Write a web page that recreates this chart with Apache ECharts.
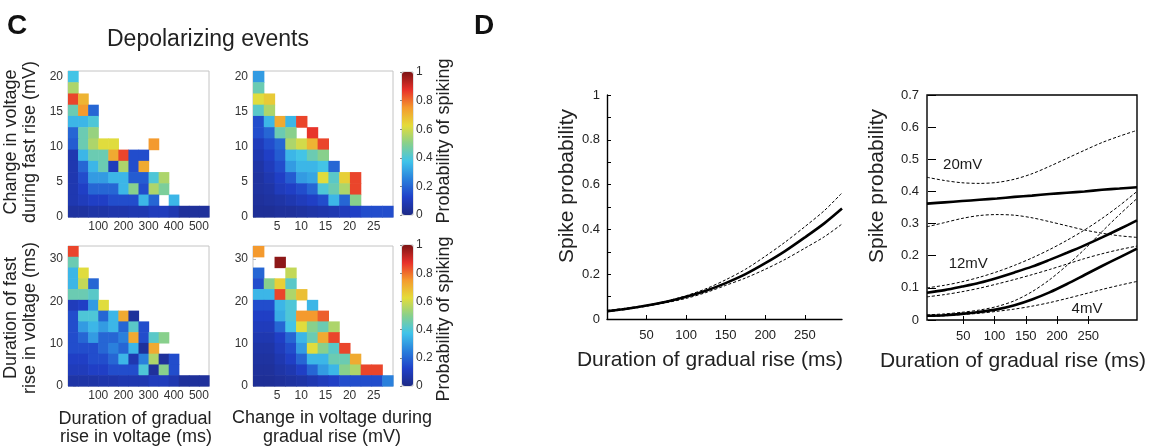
<!DOCTYPE html>
<html><head><meta charset="utf-8">
<script src="https://cdn.jsdelivr.net/npm/echarts@6/dist/echarts.min.js"></script>
<style>html,body{margin:0;padding:0;background:#fff}#c{width:1149px;height:446px}</style>
</head><body><div id="c"></div>
<script>
const N = null;
// ---- bin edges / ticks (panel C) ----
const gradDurEdges = [-20,20,60,100,140,180,220,260,300,340,380,420,460,500,540];
const gradVoltEdges = [0,2.23,4.46,6.69,8.92,11.15,13.38,15.61,17.84,20.07,22.3,24.53,26.76,28.99];
const fastVoltEdges = [0,1.6,3.2,4.8,6.4,8,9.6,11.2,12.8,14.4,16,17.6,19.2,20.8];
const fastDurEdges = [0,2.54,5.08,7.62,10.16,12.7,15.24,17.78,20.32,22.86,25.4,27.94,30.48,33.02];
const durTicks = [100,200,300,400,500];
const voltTicks = [5,10,15,20,25];

// ---- spike probability grids, rows listed top -> bottom ----
const pFastVoltByGradDur = [
  [0.38],
  [0.55],
  [0.85,0.70],
  [0.45,0.75,0.20],
  [0.35,0.35,0.40],
  [0.20,0.45,0.52],
  [0.18,0.45,0.55,0.62,0.62,N,N,N,0.75],
  [0.08,0.35,0.45,0.45,0.72,0.85,0.15,0.15],
  [0.08,0.20,0.35,0.45,0.10,0.55,0.15,0.72],
  [0.08,0.15,0.30,0.30,0.35,0.35,0.18,0.18,0.40,0.55],
  [0.08,0.12,0.20,0.20,0.20,0.35,0.50,0.15,0.55,0.48],
  [0.08,0.10,0.12,0.12,0.15,0.15,0.15,0.35,0.20,N,0.35],
  [0.05,0.05,0.06,0.06,0.07,0.07,0.08,0.08,0.10,0.10,0.08,0.04,0.04,0.04]
];
const pFastVoltByGradVolt = [
  [0.30],
  [0.45],
  [0.62,0.66],
  [0.42,0.55],
  [0.15,0.35,0.72,0.35,0.85],
  [0.15,0.20,0.45,0.50,N,0.87],
  [0.10,0.15,0.20,0.55,0.60,0.70,0.85],
  [0.08,0.12,0.18,0.35,0.38,0.45,0.50],
  [0.06,0.10,0.15,0.30,0.35,0.35,0.38,0.20],
  [0.05,0.08,0.12,0.18,0.30,0.32,0.62,0.42,0.65,0.85],
  [0.05,0.06,0.10,0.12,0.15,0.20,0.40,0.45,0.55,0.85],
  [0.04,0.05,0.06,0.08,0.10,0.12,0.15,0.35,0.20,0.50],
  [0.03,0.03,0.04,0.04,0.05,0.06,0.07,0.08,0.10,0.12,0.15,0.15,0.15]
];
const pFastDurByGradDur = [
  [0.85],
  [0.45],
  [0.35,0.62],
  [0.35,0.58,0.20],
  [0.45,0.45,0.42],
  [0.10,0.12,0.30,0.62],
  [0.15,0.40,0.40,0.20,0.35,0.72,0.04],
  [0.15,0.30,0.35,0.30,0.35,0.20,0.42,0.15],
  [0.15,0.20,0.30,0.20,0.20,0.25,0.72,0.15,0.42,0.50],
  [0.15,0.15,0.15,0.20,0.25,0.20,0.35,0.04,0.72],
  [0.12,0.12,0.15,0.15,0.20,0.35,0.08,0.25,0.55,0.04,0.15],
  [0.10,0.10,0.12,0.12,0.15,0.15,0.15,0.40,0.04,0.50,0.15],
  [0.06,0.06,0.06,0.07,0.07,0.08,0.08,0.08,0.10,0.10,0.08,0.04,0.04,0.04]
];
const pFastDurByGradVolt = [
  [0.75],
  [N,N,0.98],
  [0.20,N,N,0.58],
  [0.15,0.50,0.65,0.42],
  [0.35,0.35,0.85,0.55,0.68],
  [0.15,0.15,0.35,0.40,N,0.35],
  [0.12,0.12,0.33,0.40,0.75,0.75,0.82],
  [0.10,0.10,0.20,0.38,0.62,0.50,0.45,0.55],
  [0.08,0.08,0.12,0.20,0.35,0.45,0.72,0.85],
  [0.06,0.06,0.10,0.15,0.30,0.62,0.50,0.42,0.85],
  [0.05,0.05,0.08,0.12,0.20,0.35,0.35,0.45,0.45,0.72],
  [0.04,0.04,0.06,0.08,0.12,0.20,0.30,0.35,0.50,0.55,0.85,0.85],
  [0.03,0.03,0.04,0.05,0.06,0.08,0.10,0.12,0.15,0.15,0.15,0.15,0.25]
];
const jet = ['#1e2a86','#2040c8','#2a80dc','#40c4ea','#88d08c','#e4dc3a','#f49a2e','#e8302a','#7c1414'];

// ---- panel D ----
const durX = [0,25,50,75,100,125,150,175,200,225,250,275,297];
const pFit = [0.035,0.046,0.060,0.077,0.099,0.126,0.160,0.200,0.249,0.303,0.364,0.428,0.493];
const pUpper = [0.038,0.049,0.062,0.080,0.104,0.135,0.175,0.222,0.280,0.343,0.412,0.485,0.563];
const pLower = [0.032,0.043,0.057,0.073,0.092,0.118,0.150,0.183,0.222,0.266,0.316,0.368,0.424];

const durX2 = [-8,20,48,76,104,132,160,188,216,244,272,300,328];
const p20   = [0.362,0.366,0.370,0.374,0.378,0.383,0.387,0.392,0.396,0.400,0.405,0.409,0.413];
const p20Up = [0.444,0.434,0.427,0.425,0.428,0.438,0.455,0.478,0.503,0.528,0.552,0.572,0.590];
const p20Lo = [0.290,0.303,0.316,0.325,0.328,0.326,0.318,0.306,0.293,0.280,0.270,0.262,0.257];
const p12   = [0.085,0.093,0.104,0.116,0.131,0.148,0.166,0.187,0.209,0.232,0.257,0.283,0.310];
const p12Up = [0.100,0.108,0.119,0.133,0.150,0.170,0.193,0.219,0.248,0.280,0.316,0.356,0.400];
const p12Lo = [0.072,0.079,0.088,0.099,0.112,0.126,0.141,0.157,0.174,0.191,0.206,0.219,0.230];
const p4    = [0.013,0.015,0.019,0.025,0.033,0.046,0.064,0.086,0.112,0.140,0.168,0.195,0.222];
const p4Up  = [0.016,0.019,0.024,0.031,0.042,0.060,0.088,0.125,0.170,0.220,0.275,0.328,0.378];
const p4Lo  = [0.011,0.013,0.017,0.021,0.027,0.034,0.043,0.054,0.067,0.081,0.095,0.108,0.120];
const curveLabels = [[49,0.482,'20mV'],[58,0.174,'12mV'],[248,0.034,'4mV']];

const FONT = "'Liberation Sans', Arial, Helvetica, sans-serif";

function cells(rows, xEdges, yEdges) {
  const out = [], n = rows.length;
  rows.forEach((row, r) => {
    const yi = n - 1 - r;
    row.forEach((v, c) => { if (v != null) out.push([xEdges[c], xEdges[c+1], yEdges[yi], yEdges[yi+1], v]); });
  });
  return out;
}
function renderCell(params, api) {
  const p0 = api.coord([api.value(0), api.value(3)]);
  const p1 = api.coord([api.value(1), api.value(2)]);
  return {type:'rect', shape:{x:p0[0], y:p0[1], width:p1[0]-p0[0]+0.6, height:p1[1]-p0[1]+0.6},
          style:{fill: api.visual('color')}};
}
function pairs(xs, ys){ return xs.map((x,i)=>[x, ys[i]]); }

const hmGrid = (l,t,w,h)=>({left:l, top:t, width:w, height:h, show:true, borderColor:'#c4c4c4', borderWidth:1, backgroundColor:'#fff'});
const hmLabel = {fontFamily:FONT, fontSize:12, color:'#333', margin:4};
function hmX(gi, min, max, ticks){
  return {type:'value', gridIndex:gi, min, max, axisLine:{show:false}, splitLine:{show:false},
    axisTick:{show:true, inside:true, length:3, lineStyle:{color:'#bbb'}, customValues:ticks},
    axisLabel:Object.assign({customValues:ticks}, hmLabel)};
}
function hmY(gi, min, max, interval){
  return {type:'value', gridIndex:gi, min, max, interval, axisLine:{show:false}, splitLine:{show:false},
    axisTick:{show:true, inside:true, length:3, lineStyle:{color:'#bbb'}},
    axisLabel:Object.assign({}, hmLabel, {margin:5, showMaxLabel:false})};
}

const chart = echarts.init(document.getElementById('c'), null, {renderer:'canvas'});
const dLabel = {fontFamily:FONT, fontSize:13, color:'#222'};
const solid = {color:'#000', width:2.6};
const dashed = {color:'#000', width:1, type:[3,2]};
function line(name, xs, ys, style, ai){
  return {name, type:'line', xAxisIndex:ai, yAxisIndex:ai, data:pairs(xs,ys), smooth:0.3,
          showSymbol:false, lineStyle:style, silent:true, z:3};
}
const txt = (x,y,text,size,rot)=>({type:'text', x, y, rotation:rot?Math.PI/2:0,
  style:{text, font:size+'px '+FONT, fill:'#222', textAlign:'center', textVerticalAlign:'middle'}});

const option = {
  animation:false,
  backgroundColor:'#fff',
  textStyle:{fontFamily:FONT},
  grid:[
    hmGrid(68,71,141,146),
    hmGrid(253,71,140,146),
    hmGrid(68,246,141,140),
    hmGrid(253,246,140,140),
    {left:402,top:72,width:11,height:143, show:true, borderColor:'#c4c4c4', borderWidth:1},
    {left:402,top:245,width:11,height:141, show:true, borderColor:'#c4c4c4', borderWidth:1},
    {left:607,top:95,width:235,height:224},
    {left:927,top:95,width:210,height:225, show:true, borderColor:'#000', borderWidth:1.4}
  ],
  xAxis:[
    hmX(0,-20,540,durTicks),
    hmX(1,0,28.99,voltTicks),
    hmX(2,-20,540,durTicks),
    hmX(3,0,28.99,voltTicks),
    {type:'value', gridIndex:4, min:0, max:1, show:false},
    {type:'value', gridIndex:5, min:0, max:1, show:false},
    {type:'value', gridIndex:6, min:0, max:297, splitLine:{show:false},
      axisLine:{lineStyle:{color:'#000', width:1.4}},
      axisTick:{inside:true, length:4, lineStyle:{color:'#000'}, customValues:[50,100,150,200,250]},
      axisLabel:Object.assign({customValues:[50,100,150,200,250], margin:10}, dLabel)},
    {type:'value', gridIndex:7, min:-8, max:328, splitLine:{show:false},
      axisLine:{show:false},
      axisTick:{inside:true, length:4, lineStyle:{color:'#000'}, customValues:[50,100,150,200,250]},
      axisLabel:Object.assign({customValues:[50,100,150,200,250], margin:10}, dLabel)},
    {type:'value', gridIndex:7, min:-8, max:328, position:'top', splitLine:{show:false},
      axisLine:{show:false}, axisLabel:{show:false},
      axisTick:{inside:true, length:4, lineStyle:{color:'#000'}, customValues:[50,100,150,200,250]}}
  ],
  yAxis:[
    hmY(0,0,20.8,5),
    hmY(1,0,20.8,5),
    hmY(2,0,33.02,10),
    hmY(3,0,33.02,10),
    {type:'value', gridIndex:4, min:0, max:1, interval:0.2, position:'right', splitLine:{show:false},
      axisLine:{show:false}, axisTick:{inside:true, length:2, lineStyle:{color:'#888'}},
      axisLabel:{fontFamily:FONT, fontSize:12, color:'#333', margin:3}},
    {type:'value', gridIndex:5, min:0, max:1, interval:0.2, position:'right', splitLine:{show:false},
      axisLine:{show:false}, axisTick:{inside:true, length:2, lineStyle:{color:'#888'}},
      axisLabel:{fontFamily:FONT, fontSize:12, color:'#333', margin:3}},
    {type:'value', gridIndex:6, min:0, max:1, interval:0.1, splitLine:{show:false},
      axisLine:{show:true, lineStyle:{color:'#000', width:1.4}},
      axisTick:{show:true, inside:true, length:4, lineStyle:{color:'#000'}},
      axisLabel:Object.assign({customValues:[0,0.2,0.4,0.6,0.8,1], margin:7}, dLabel)},
    {type:'value', gridIndex:7, min:0, max:0.7, interval:0.1, splitLine:{show:false},
      axisLine:{show:false},
      axisTick:{show:true, inside:true, length:4, lineStyle:{color:'#000'}},
      axisLabel:Object.assign({margin:8}, dLabel)},
    {type:'value', gridIndex:7, min:0, max:0.7, interval:0.1, position:'right', splitLine:{show:false},
      axisLine:{show:false}, axisLabel:{show:false},
      axisTick:{show:true, inside:true, length:4, lineStyle:{color:'#000'}}}
  ],
  visualMap:[
    {type:'continuous', min:0, max:1, dimension:4, seriesIndex:[0,1], orient:'vertical',
      left:402, top:72, itemWidth:11, itemHeight:143, calculable:false, padding:0, hoverLink:false,
      inRange:{color:jet}},
    {type:'continuous', min:0, max:1, dimension:4, seriesIndex:[2,3], orient:'vertical',
      left:402, top:245, itemWidth:11, itemHeight:141, calculable:false, padding:0, hoverLink:false,
      inRange:{color:jet}}
  ],
  series:[
    {type:'custom', xAxisIndex:0, yAxisIndex:0, renderItem:renderCell, encode:{x:[0,1], y:[2,3]},
      data:cells(pFastVoltByGradDur, gradDurEdges, fastVoltEdges), silent:true},
    {type:'custom', xAxisIndex:1, yAxisIndex:1, renderItem:renderCell, encode:{x:[0,1], y:[2,3]},
      data:cells(pFastVoltByGradVolt, gradVoltEdges, fastVoltEdges), silent:true},
    {type:'custom', xAxisIndex:2, yAxisIndex:2, renderItem:renderCell, encode:{x:[0,1], y:[2,3]},
      data:cells(pFastDurByGradDur, gradDurEdges, fastDurEdges), silent:true},
    {type:'custom', xAxisIndex:3, yAxisIndex:3, renderItem:renderCell, encode:{x:[0,1], y:[2,3]},
      data:cells(pFastDurByGradVolt, gradVoltEdges, fastDurEdges), silent:true},
    line('fitUp', durX, pUpper, dashed, 6),
    line('fitLo', durX, pLower, dashed, 6),
    line('fit', durX, pFit, solid, 6),
    line('20up', durX2, p20Up, dashed, 7),
    line('20lo', durX2, p20Lo, dashed, 7),
    line('20', durX2, p20, solid, 7),
    line('12up', durX2, p12Up, dashed, 7),
    line('12lo', durX2, p12Lo, dashed, 7),
    line('12', durX2, p12, solid, 7),
    line('4up', durX2, p4Up, dashed, 7),
    line('4lo', durX2, p4Lo, dashed, 7),
    line('4', durX2, p4, solid, 7),
    {type:'scatter', xAxisIndex:7, yAxisIndex:7, symbolSize:1, itemStyle:{color:'rgba(0,0,0,0)'}, silent:true, z:5,
      data:curveLabels,
      label:{show:true, position:'inside', formatter:p=>p.value[2], fontFamily:FONT, fontSize:15, color:'#1a1a1a', opacity:1}}
  ],
  graphic:[
    {type:'text', x:7, y:26, style:{text:'C', font:'bold 28px '+FONT, fill:'#111', textVerticalAlign:'middle'}},
    {type:'text', x:474, y:26, style:{text:'D', font:'bold 28px '+FONT, fill:'#111', textVerticalAlign:'middle'}},
    txt(208,40,'Depolarizing events',23),
    txt(11,142,'Change in voltage',18,true),
    txt(30,142,'during fast rise (mV)',18,true),
    txt(11,318,'Duration of fast',18,true),
    txt(30,318,'rise in voltage (ms)',18,true),
    txt(135,419,'Duration of gradual',18),
    txt(136,437,'rise in voltage (ms)',18),
    txt(332,418,'Change in voltage during',18),
    txt(332,437,'gradual rise (mV)',18),
    txt(444,141,'Probability of spiking',18,true),
    txt(444,319,'Probability of spiking',18,true),
    txt(567,186,'Spike probability',21,true),
    txt(877,186,'Spike probability',21,true),
    txt(710,360,'Duration of gradual rise (ms)',21),
    txt(1013,361,'Duration of gradual rise (ms)',21)
  ]
};
chart.setOption(option);
</script></body></html>
